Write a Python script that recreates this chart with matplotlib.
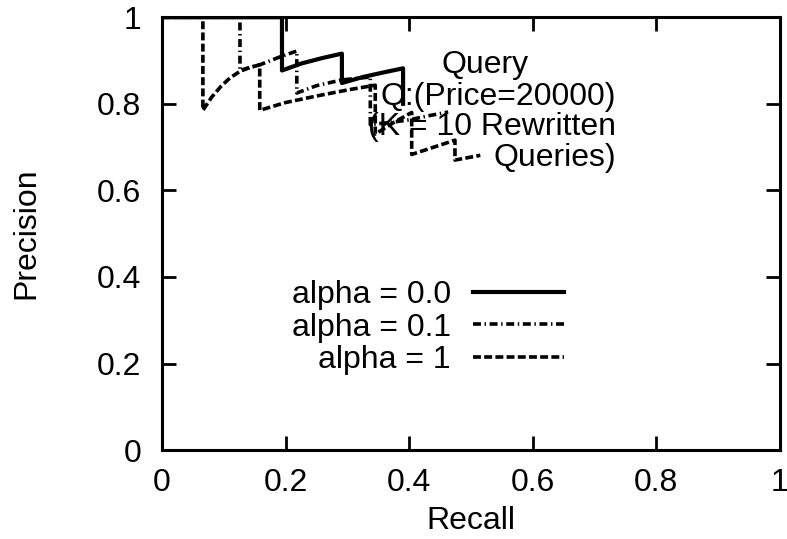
import matplotlib
matplotlib.use("Agg")
import matplotlib.pyplot as plt

# -----------------------------------
# data
# -----------------------------------

recall_a0 = [0, 0.194, 0.194, 0.225, 0.26, 0.291, 0.291, 0.325, 0.36, 0.39, 0.39]
prec_a0 = [1, 1, 0.877, 0.893, 0.906, 0.916, 0.848, 0.862, 0.873, 0.882, 0.80]

recall_a01 = [0, 0.126, 0.126, 0.142, 0.158, 0.19, 0.218, 0.218, 0.25, 0.29, 0.337,
              0.337, 0.37, 0.40, 0.43, 0.463]
prec_a01 = [1, 1, 0.877, 0.884, 0.89, 0.908, 0.922, 0.825, 0.842, 0.855, 0.862,
            0.752, 0.757, 0.763, 0.772, 0.781]

recall_a1 = [0, 0.066, 0.066, 0.08, 0.095, 0.11, 0.126, 0.142, 0.158, 0.158, 0.20,
             0.25, 0.30, 0.345, 0.345, 0.375, 0.404, 0.404, 0.44, 0.474, 0.474, 0.515]
prec_a1 = [1, 1, 0.785, 0.815, 0.84, 0.86, 0.875, 0.884, 0.89, 0.785, 0.803,
           0.818, 0.832, 0.843, 0.73, 0.757, 0.78, 0.683, 0.70, 0.716, 0.670, 0.681]

labels = ["alpha = 0.0", "alpha = 0.1", "alpha = 1"]
ticks = [0, 0.2, 0.4, 0.6, 0.8, 1]
tick_labels = ["0", "0.2", "0.4", "0.6", "0.8", "1"]

plt.rcParams["font.family"] = ["Liberation Sans", "DejaVu Sans"]
plt.rcParams["font.size"] = 23

fig = plt.figure(figsize=(7.87, 5.39), dpi=100)
ax = fig.add_axes([0.206, 0.165, 0.785, 0.803])

ax.plot(recall_a0, prec_a0, color="black", lw=3.0, label=labels[0])
ax.plot(recall_a01, prec_a01, color="black", lw=2.6,
        linestyle=(0, (2.2, 1.0, 0.4, 1.0)), label=labels[1])
ax.plot(recall_a1, prec_a1, color="black", lw=2.6,
        linestyle=(0, (2.2, 0.9)), label=labels[2])

ax.set_xlim(0, 1)
ax.set_ylim(0, 1)
ax.set_xticks(ticks)
ax.set_xticklabels(tick_labels)
ax.set_yticks(ticks)
ax.set_yticklabels(tick_labels)
ax.tick_params(direction="in", length=10, width=2, top=True, right=True)
ax.tick_params(axis="x", pad=13)
ax.tick_params(axis="y", pad=15)
for s in ax.spines.values():
    s.set_linewidth(2.2)

ax.set_xlabel("Recall", labelpad=6)
ax.set_ylabel("Precision", labelpad=40)

# note text (last line baseline given for the right aligned block)
ax.text(0.453, 0.871, "Query", ha="left", va="baseline")
ax.text(0.735, 0.656, "Q:(Price=20000)\n(K = 10 Rewritten\nQueries)",
        ha="right", va="baseline", multialignment="right", linespacing=1.03)

# legend: markerfirst=False puts the text on the left, right aligned
leg = ax.legend(loc="center", bbox_to_anchor=(0.43, 0.283), frameon=False,
                markerfirst=False, handlelength=2.86, handletextpad=0.68,
                labelspacing=0.07, borderpad=0)

fig.savefig("out.png", dpi=100)
